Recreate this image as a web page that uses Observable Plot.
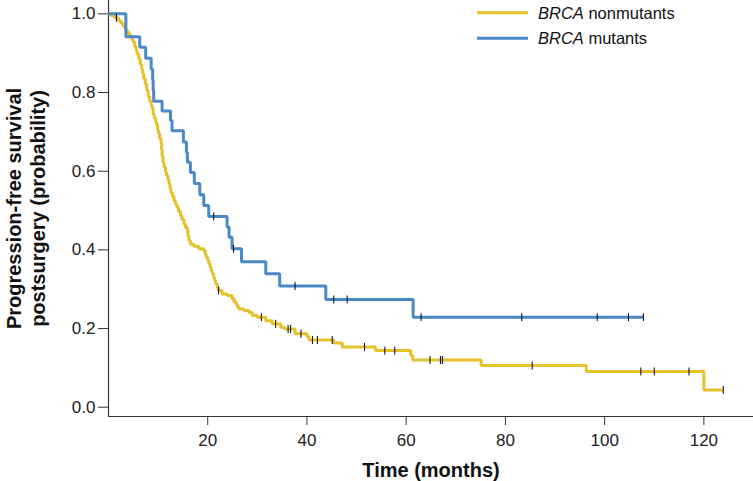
<!DOCTYPE html>
<html>
<head>
<meta charset="utf-8">
<script src="https://cdn.jsdelivr.net/npm/d3@7"></script>
<script src="https://cdn.jsdelivr.net/npm/@observablehq/plot@0.6"></script>
<style>
  body { margin: 0; background: #fff; }
  #chart svg { display: block; }
</style>
</head>
<body>
<div id="chart"></div>
<script>
// ---- data ----
const groupNames = ["nonmutants", "mutants"];
const groupPrefix = "BRCA";
const groupColors = ["#E5C12B", "#4A89C7"];
const xTicks = [20, 40, 60, 80, 100, 120];
const yTicks = [0, 0.2, 0.4, 0.6, 0.8, 1.0];
const xTitle = "Time (months)";
const yTitle = "Progression-free survival\npostsurgery (probability)";

// BRCA nonmutants: event times (months) and survival after each event
const nonTimes = [0, 0.5, 1.2, 2.0, 2.4, 2.8, 3.1, 3.4, 3.7, 4.1, 4.4, 4.7, 5.0, 5.3, 5.6, 5.8, 6.1, 6.4, 6.7, 6.9, 7.1, 7.4, 7.7, 8.0, 8.3, 8.6, 8.8, 9.0, 9.2, 9.5, 9.7, 9.9, 10.1, 10.3, 10.6, 10.7, 10.8, 11.0, 11.2, 11.5, 11.7, 12.0, 12.2, 12.4, 12.6, 12.9, 13.2, 13.5, 13.8, 14.1, 14.5, 14.8, 15.2, 15.5, 15.9, 16.0, 16.2, 16.5, 17.2, 18.2, 19.2, 19.5, 19.7, 20.0, 20.2, 20.5, 20.7, 20.9, 21.2, 21.4, 21.6, 21.9, 22.1, 22.9, 23.9, 24.9, 25.3, 25.7, 26.0, 26.3, 27.3, 28.3, 29.0, 30.0, 31.7, 33.0, 34.7, 35.5, 37.6, 40.0, 40.4, 45.4, 47.1, 53.8, 60.9, 61.3, 75.1, 96.3, 120.0];
const nonSurv = [1.0, 0.996, 0.990, 0.984, 0.978, 0.972, 0.966, 0.960, 0.954, 0.948, 0.942, 0.934, 0.928, 0.916, 0.905, 0.897, 0.885, 0.872, 0.860, 0.848, 0.835, 0.822, 0.806, 0.790, 0.778, 0.768, 0.760, 0.745, 0.735, 0.725, 0.718, 0.705, 0.695, 0.683, 0.670, 0.655, 0.638, 0.622, 0.610, 0.598, 0.589, 0.578, 0.568, 0.556, 0.545, 0.535, 0.525, 0.516, 0.508, 0.498, 0.487, 0.477, 0.466, 0.457, 0.449, 0.436, 0.424, 0.414, 0.409, 0.403, 0.398, 0.389, 0.381, 0.373, 0.365, 0.356, 0.347, 0.339, 0.330, 0.322, 0.314, 0.305, 0.297, 0.288, 0.284, 0.276, 0.268, 0.262, 0.255, 0.250, 0.246, 0.241, 0.233, 0.229, 0.220, 0.212, 0.203, 0.199, 0.187, 0.180, 0.171, 0.163, 0.153, 0.144, 0.132, 0.120, 0.106, 0.091, 0.044];
const nonCensor = [1.6, 22.2, 30.8, 33.7, 36.2, 36.7, 38.8, 41.1, 42.1, 45.1, 51.6, 55.7, 57.7, 64.8, 66.9, 67.3, 85.4, 107.3, 110.0, 117.0, 123.9];

// BRCA mutants
const mutTimes = [0, 3.5, 6.3, 7.5, 8.6, 8.9, 9.0, 9.1, 10.8, 12.5, 12.8, 15.1, 15.7, 15.9, 16.5, 17.3, 18.4, 19.2, 20.2, 23.9, 24.3, 24.9, 26.8, 31.7, 34.5, 43.8, 61.4];
const mutSurv = [1.0, 0.942, 0.915, 0.887, 0.860, 0.832, 0.805, 0.778, 0.753, 0.729, 0.703, 0.674, 0.648, 0.623, 0.597, 0.569, 0.540, 0.513, 0.485, 0.458, 0.432, 0.403, 0.370, 0.339, 0.308, 0.274, 0.229];
const mutCensor = [21.2, 25.2, 37.6, 45.4, 48.1, 63.0, 83.3, 98.5, 104.8, 107.8];

// ---- build tables ----
function curveData(times, surv, censor) {
  const pts = times.map((t, i) => ({t, s: surv[i]}));
  const end = d3.max(censor);
  if (end > times[times.length - 1]) pts.push({t: end, s: surv[surv.length - 1]});
  return pts;
}
function censorData(times, surv, censor) {
  return censor.map(c => ({t: c, s: surv[d3.bisectRight(times, c) - 1]}));
}
const nonCurve = curveData(nonTimes, nonSurv, nonCensor);
const mutCurve = curveData(mutTimes, mutSurv, mutCensor);
const censorAll = censorData(nonTimes, nonSurv, nonCensor).concat(censorData(mutTimes, mutSurv, mutCensor));

const xDomain = [0, 130];
const yDomain = [-0.0236, 1.034];

const vbar = {
  draw(context, size) {
    const r = Math.sqrt(size / Math.PI);
    context.moveTo(0, -r);
    context.lineTo(0, r);
  }
};

const axisColor = "#333";
const fontStack = "'Liberation Sans', Arial, Helvetica, sans-serif";

const svg = Plot.plot({
  width: 753,
  height: 481,
  marginLeft: 108,
  marginRight: 0,
  marginTop: 0,
  marginBottom: 65,
  x: {domain: xDomain},
  y: {domain: yDomain},
  style: {fontFamily: fontStack, fontSize: "17px", color: "#222", background: "#fff"},
  marks: [
    Plot.ruleX([xDomain[0]], {stroke: axisColor, strokeWidth: 1.2}),
    Plot.ruleY([yDomain[0]], {stroke: axisColor, strokeWidth: 1.2}),
    Plot.axisX({ticks: xTicks, tickSize: 9, tickPadding: 8, label: null, stroke: axisColor}),
    Plot.axisY({ticks: yTicks, tickSize: 10, tickPadding: 3, tickFormat: d3.format(".1f"), label: null, stroke: axisColor}),
    Plot.line(nonCurve, {x: "t", y: "s", curve: "step-after", stroke: groupColors[0], strokeWidth: 3, strokeLinejoin: "miter", strokeLinecap: "butt"}),
    Plot.line(mutCurve, {x: "t", y: "s", curve: "step-after", stroke: groupColors[1], strokeWidth: 3, strokeLinejoin: "miter", strokeLinecap: "butt"}),
    Plot.dot(censorAll, {x: "t", y: "s", symbol: vbar, r: 4, stroke: "#000", fill: "none", strokeWidth: 1}),
    Plot.text([xTitle], {text: d => d, frameAnchor: "bottom", lineAnchor: "top", dy: 46, fontWeight: "bold", fontSize: 20, fill: "#111"}),
    Plot.text([yTitle], {text: d => d, frameAnchor: "left", textAnchor: "middle", rotate: -90, lineAnchor: "top", dx: -105, lineHeight: 1.2, fontWeight: "bold", fontSize: 20, fill: "#111"})
  ]
});

// legend (inside the svg, top right)
const leg = d3.select(svg).append("g")
  .attr("font-family", fontStack)
  .attr("font-size", 16.5)
  .attr("text-anchor", "start")
  .attr("fill", "#111");
groupNames.forEach((name, i) => {
  const yy = 12.7 + i * 25.6;
  leg.append("line").attr("x1", 477).attr("x2", 528).attr("y1", yy).attr("y2", yy)
    .attr("stroke", groupColors[i]).attr("stroke-width", 3);
  const t = leg.append("text").attr("x", 538).attr("y", yy + 6).attr("text-anchor", "start");
  t.append("tspan").attr("font-style", "italic").text(groupPrefix);
  t.append("tspan").text(" " + name);
});

document.getElementById("chart").appendChild(svg);
</script>
</body>
</html>
